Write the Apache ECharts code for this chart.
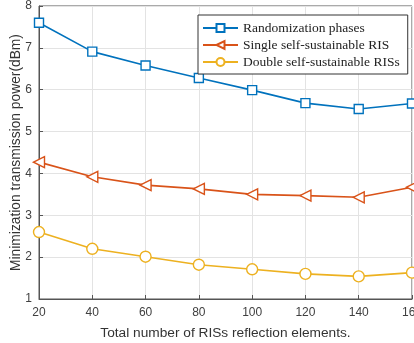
<!DOCTYPE html>
<html><head><meta charset="utf-8">
<script src="https://cdn.jsdelivr.net/npm/echarts@6/dist/echarts.min.js"></script>
<style>html,body{margin:0;padding:0;background:#fff}#c{width:414px;height:343px}</style>
</head><body><div id="c"></div>
<script>
var xValues = [20, 40, 60, 80, 100, 120, 140, 160];
var randomization = [7.60, 6.91, 6.58, 6.28, 5.99, 5.68, 5.54, 5.67];
var singleRIS = [4.27, 3.92, 3.72, 3.63, 3.50, 3.47, 3.43, 3.67];
var doubleRIS = [2.60, 2.20, 2.01, 1.82, 1.71, 1.60, 1.54, 1.63];
var seriesNames = ['Randomization phases', 'Single self-sustainable RIS', 'Double self-sustainable RISs'];
var colors = ['#0072BD', '#D95319', '#EDB120'];

function pairs(v){ return xValues.map(function(x,i){ return [x, v[i]]; }); }

var chart = echarts.init(document.getElementById('c'), null, {renderer:'canvas'});
var axisLabelStyle = {color:'#404040', fontFamily:'Liberation Sans, Arial, sans-serif', fontSize:12};
function mk(i, data, symbol, size, rot){
  return {name:seriesNames[i], type:'line', data:pairs(data),
    lineStyle:{width:1.6, color:colors[i]}, symbol:symbol, symbolSize:size, symbolRotate:rot||0,
    showAllSymbol:true,
    itemStyle:{color:'#fff', borderColor:colors[i], borderWidth:1.4},
    emphasis:{disabled:true}};
}
chart.setOption({
  animation:false,
  backgroundColor:'#fff',
  grid:{left:39, right:2, top:6, bottom:44, show:true, borderColor:'#555', borderWidth:1, containLabel:false, outerBoundsMode:'none'},
  legend:{
    orient:'vertical', left:198, top:15, itemWidth:35, itemHeight:10, itemGap:3,
    padding:[6,8,5,4], backgroundColor:'#fff', borderColor:'#333', borderWidth:1,
    textStyle:{fontFamily:'Liberation Serif, Times New Roman, serif', fontSize:13.5, color:'#222', lineHeight:14},
    data:seriesNames
  },
  xAxis:{type:'value', min:20, max:160, interval:20,
    name:'Total number of RISs reflection elements.', nameLocation:'middle', nameGap:27, nameMoveOverlap:false,
    nameTextStyle:{color:'#333', fontFamily:'Liberation Sans, Arial, sans-serif', fontSize:13.7},
    axisLine:{show:true, lineStyle:{color:'#555'}},
    axisTick:{show:true, inside:true, length:4, lineStyle:{color:'#555'}},
    axisLabel:Object.assign({margin:8}, axisLabelStyle),
    splitLine:{show:true, lineStyle:{color:'#e3e3e3'}}
  },
  yAxis:{type:'value', min:1, max:8, interval:1,
    name:'Minimization transmission power(dBm)', nameLocation:'middle', nameGap:16, nameMoveOverlap:false,
    nameTextStyle:{color:'#333', fontFamily:'Liberation Sans, Arial, sans-serif', fontSize:13.8},
    axisLine:{show:true, lineStyle:{color:'#555'}},
    axisTick:{show:true, inside:true, length:4, lineStyle:{color:'#555'}},
    axisLabel:Object.assign({margin:7}, axisLabelStyle),
    splitLine:{show:true, lineStyle:{color:'#e3e3e3'}}
  },
  series:[
    mk(0, randomization, 'rect', 9),
    mk(1, singleRIS, 'triangle', 11, 90),
    mk(2, doubleRIS, 'circle', 11)
  ]
});
</script></body></html>
